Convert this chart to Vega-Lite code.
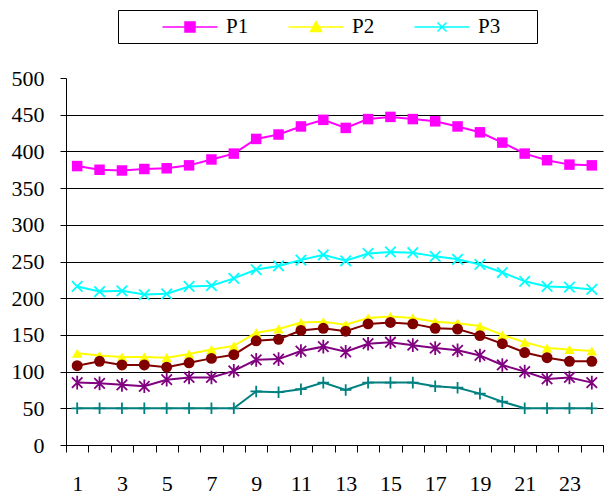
{
  "$schema": "https://vega.github.io/schema/vega-lite/v6.json",
  "width": 537,
  "height": 367,
  "autosize": {"type": "none"},
  "padding": {"left": 66, "top": 78, "right": 2, "bottom": 49},
  "background": "white",
  "config": {"view": {"stroke": null}, "font": "Liberation Serif"},
  "data": {
    "values": [
      {"h": 1, "P1": 380, "P2": 125, "P3": 216, "P4": 108, "P5": 85, "P6": 50},
      {"h": 2, "P1": 375, "P2": 122, "P3": 209, "P4": 114, "P5": 84, "P6": 50},
      {"h": 3, "P1": 374, "P2": 120, "P3": 210, "P4": 109, "P5": 82, "P6": 50},
      {"h": 4, "P1": 376, "P2": 120, "P3": 205, "P4": 109, "P5": 80, "P6": 50},
      {"h": 5, "P1": 377, "P2": 119, "P3": 206, "P4": 106, "P5": 89, "P6": 50},
      {"h": 6, "P1": 381, "P2": 124, "P3": 216, "P4": 112, "P5": 92, "P6": 50},
      {"h": 7, "P1": 389, "P2": 130, "P3": 217, "P4": 118, "P5": 92, "P6": 50},
      {"h": 8, "P1": 397, "P2": 135, "P3": 227, "P4": 123, "P5": 101, "P6": 50},
      {"h": 9, "P1": 417, "P2": 153, "P3": 239, "P4": 142, "P5": 116, "P6": 73},
      {"h": 10, "P1": 423, "P2": 158, "P3": 244, "P4": 144, "P5": 117, "P6": 72},
      {"h": 11, "P1": 434, "P2": 167, "P3": 252, "P4": 156, "P5": 128, "P6": 76},
      {"h": 12, "P1": 443, "P2": 168, "P3": 259, "P4": 159, "P5": 134, "P6": 85},
      {"h": 13, "P1": 432, "P2": 164, "P3": 251, "P4": 155, "P5": 127, "P6": 75},
      {"h": 14, "P1": 444, "P2": 173, "P3": 261, "P4": 165, "P5": 138, "P6": 85},
      {"h": 15, "P1": 447, "P2": 175, "P3": 263, "P4": 167, "P5": 140, "P6": 85},
      {"h": 16, "P1": 444, "P2": 173, "P3": 262, "P4": 165, "P5": 136, "P6": 85},
      {"h": 17, "P1": 441, "P2": 168, "P3": 257, "P4": 159, "P5": 132, "P6": 80},
      {"h": 18, "P1": 434, "P2": 166, "P3": 253, "P4": 158, "P5": 129, "P6": 78},
      {"h": 19, "P1": 426, "P2": 162, "P3": 246, "P4": 149, "P5": 122, "P6": 70},
      {"h": 20, "P1": 412, "P2": 150, "P3": 235, "P4": 138, "P5": 109, "P6": 59},
      {"h": 21, "P1": 397, "P2": 140, "P3": 223, "P4": 126, "P5": 100, "P6": 50},
      {"h": 22, "P1": 388, "P2": 132, "P3": 216, "P4": 119, "P5": 90, "P6": 50},
      {"h": 23, "P1": 382, "P2": 130, "P3": 215, "P4": 114, "P5": 92, "P6": 50},
      {"h": 24, "P1": 381, "P2": 128, "P3": 212, "P4": 114, "P5": 85, "P6": 50}
    ]
  },
  "transform": [
    {"fold": ["P1", "P2", "P3", "P4", "P5", "P6"], "as": ["series", "value"]}
  ],
  "encoding": {
    "x": {
      "field": "h",
      "type": "ordinal",
      "scale": {"type": "band", "paddingInner": 0, "paddingOuter": 0},
      "axis": {
        "title": null,
        "labelAngle": 0,
        "tickBand": "extent",
        "labelExpr": "datum.value % 2 === 1 ? datum.label : ''",
        "tickSize": 7,
        "tickColor": "black",
        "domainColor": "black",
        "labelColor": "black",
        "labelFontSize": 22,
        "labelFont": "Liberation Serif",
        "labelPadding": 21,
        "grid": false
      }
    },
    "y": {
      "field": "value",
      "type": "quantitative",
      "scale": {"domain": [0, 500], "nice": false},
      "axis": {
        "title": null,
        "values": [0, 50, 100, 150, 200, 250, 300, 350, 400, 450, 500],
        "tickSize": 6,
        "tickColor": "black",
        "domainColor": "black",
        "labelColor": "black",
        "labelFontSize": 22,
        "labelFont": "Liberation Serif",
        "labelPadding": 16,
        "grid": true,
        "gridColor": "black",
        "gridWidth": 1,
        "gridOpacity": {"condition": {"test": "datum.value === 500", "value": 0}, "value": 1}
      }
    }
  },
  "layer": [
    {
      "mark": {"type": "line", "strokeWidth": 2},
      "encoding": {
        "color": {
          "field": "series",
          "type": "nominal",
          "scale": {
            "domain": ["P1", "P2", "P3", "P4", "P5", "P6"],
            "range": ["#FF00FF", "#FFFF00", "#00FFFF", "#800000", "#800080", "#008080"]
          },
          "legend": {
            "values": ["P1", "P2", "P3"],
            "orient": "none",
            "legendX": 52,
            "legendY": -68,
            "direction": "horizontal",
            "columns": 3,
            "title": "P",
            "titleOrient": "right",
            "titleColor": "white",
            "titleOpacity": 0,
            "titleFontSize": 21,
            "titleFont": "Liberation Serif",
            "titlePadding": 18,
            "strokeColor": "black",
            "fillColor": "white",
            "padding": 6,
            "symbolSize": 400,
            "symbolOffset": 55,
            "symbolStrokeWidth": 1.5,
            "labelOffset": 25,
            "columnPadding": 1,
            "labelFont": "Liberation Serif",
            "labelFontSize": 21,
            "labelColor": "black",
            "encode": {
              "symbols": {
                "update": {
                  "shape": {"signal": "datum.value === 'P1' ? 'M-2.75,0L2.75,0M-0.5,-0.5L0.5,-0.5L0.5,0.5L-0.5,0.5Z' : datum.value === 'P2' ? 'M-2.75,0L2.75,0M0,-0.55L0.55,0.45L-0.55,0.45Z' : 'M-2.75,0L2.75,0M-0.45,-0.45L0.45,0.45M-0.45,0.45L0.45,-0.45'"},
                  "fill": {"signal": "scale('color', datum.value)"},
                  "stroke": {"signal": "scale('color', datum.value)"},
                  "fillOpacity": {"value": 1},
                  "opacity": {"value": 1}
                }
              }
            }
          }
        }
      }
    },
    {
      "transform": [{"filter": {"field": "series", "equal": "P1"}}],
      "mark": {"type": "point", "shape": "square", "filled": true, "size": 110, "opacity": 1, "color": "#FF00FF"}
    },
    {
      "transform": [{"filter": {"field": "series", "equal": "P2"}}],
      "mark": {"type": "point", "shape": "triangle-up", "filled": true, "size": 110, "opacity": 1, "color": "#FFFF00"}
    },
    {
      "transform": [{"filter": {"field": "series", "equal": "P3"}}],
      "mark": {"type": "point", "shape": "M-1,-1L1,1M-1,1L1,-1", "filled": false, "size": 110, "strokeWidth": 1.8, "opacity": 1, "color": "#00FFFF"}
    },
    {
      "transform": [{"filter": {"field": "series", "equal": "P4"}}],
      "mark": {"type": "point", "shape": "circle", "filled": true, "size": 120, "opacity": 1, "color": "#800000"}
    },
    {
      "transform": [{"filter": {"field": "series", "equal": "P5"}}],
      "mark": {"type": "point", "shape": "M-1,-1L1,1M-1,1L1,-1M0,-1.3L0,1.3", "filled": false, "size": 110, "strokeWidth": 1.8, "opacity": 1, "color": "#800080"}
    },
    {
      "transform": [{"filter": {"field": "series", "equal": "P6"}}],
      "mark": {"type": "point", "shape": "M-1.1,0L1.1,0M0,-1.1L0,1.1", "filled": false, "size": 110, "strokeWidth": 1.8, "opacity": 1, "color": "#008080"}
    }
  ]
}
